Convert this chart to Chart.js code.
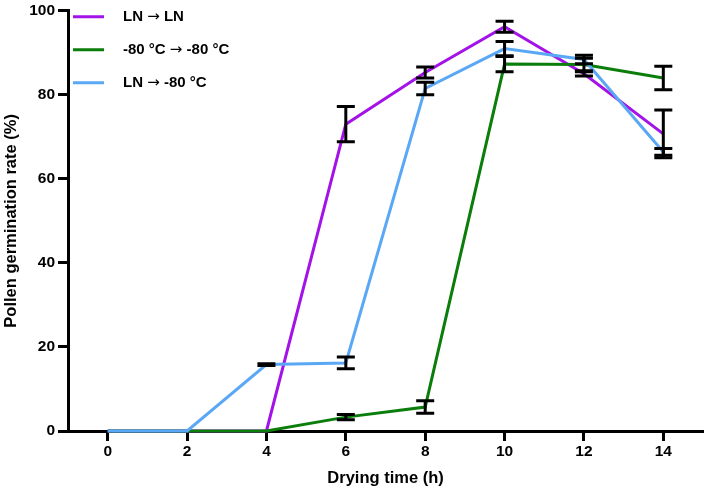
<!DOCTYPE html>
<html>
<head>
<meta charset="utf-8">
<script src="https://cdn.jsdelivr.net/npm/chart.js@4.4.0/dist/chart.umd.min.js"></script>
<style>
  html, body { margin: 0; padding: 0; background: #fff; }
  #wrap { width: 708px; height: 499px; }
</style>
</head>
<body>
<div id="wrap"><canvas id="germination"></canvas></div>
<script>
const drying_hours = [0, 2, 4, 6, 8, 10, 12, 14];
const x_ticks = [0, 2, 4, 6, 8, 10, 12, 14];
const y_ticks = [0, 20, 40, 60, 80, 100];
const series_names = ['LN \u2192 LN', '-80 \u00b0C \u2192 -80 \u00b0C', 'LN \u2192 -80 \u00b0C'];

const ln_ln = [0, 0, 0, 73, 85.3, 96.2, 85, 70.7];
const ln_ln_err = [0, 0, 0, 4.2, 1.3, 1.3, 0.5, 5.7];
const m80_m80 = [0, 0, 0, 3.3, 5.7, 87.3, 87.2, 84];
const m80_m80_err = [0, 0, 0, 0.6, 1.5, 1.8, 1.5, 2.8];
const ln_m80 = [0, 0, 15.8, 16.2, 81.5, 91, 88.4, 66.4];
const ln_m80_err = [0, 0, 0.2, 1.4, 1.5, 1.7, 1.0, 0.8];

const colors = ['#a313e8', '#0b7d0b', '#5aa8f5'];
const FONT = '"Liberation Sans", Arial, sans-serif';
const ARROW_FONT = '15px "DejaVu Sans", sans-serif';

function to_points (vals) {
  return drying_hours.map((h, i) => ({ x: h, y: vals[i] }));
}

// black error bars with caps, drawn on top of the lines
const error_bars = {
  id: 'error_bars',
  afterDatasetsDraw (chart) {
    const ctx = chart.ctx;
    const xs = chart.scales.x;
    const ys = chart.scales.y;
    ctx.save();
    ctx.strokeStyle = '#000';
    ctx.lineWidth = 3;
    chart.data.datasets.forEach(ds => {
      ds.data.forEach((p, i) => {
        const e = ds.errors[i];
        if (!e) return;
        const px = xs.getPixelForValue(p.x);
        const top = ys.getPixelForValue(p.y + e);
        const bot = ys.getPixelForValue(p.y - e);
        ctx.beginPath();
        ctx.moveTo(px, top); ctx.lineTo(px, bot);
        ctx.moveTo(px - 9, top); ctx.lineTo(px + 9, top);
        ctx.moveTo(px - 9, bot); ctx.lineTo(px + 9, bot);
        ctx.stroke();
      });
    });
    ctx.restore();
  }
};

// legend sits inside the plot, top left; arrow drawn in DejaVu so it is long like the original
const inside_legend = {
  id: 'inside_legend',
  afterDraw (chart) {
    const ctx = chart.ctx;
    const left = chart.chartArea.left;
    const top = chart.chartArea.top;
    const text_font = 'bold 15px ' + FONT;
    ctx.save();
    ctx.textBaseline = 'middle';
    ctx.fillStyle = '#000';
    series_names.forEach((name, i) => {
      const y = top + 6 + i * 33;
      ctx.strokeStyle = colors[i];
      ctx.lineWidth = 3;
      ctx.beginPath();
      ctx.moveTo(left + 5, y);
      ctx.lineTo(left + 36, y);
      ctx.stroke();
      let x = left + 55;
      name.split(/(\u2192)/).forEach(part => {
        ctx.font = part === '\u2192' ? ARROW_FONT : text_font;
        ctx.fillText(part, x, y);
        x += ctx.measureText(part).width;
      });
    });
    ctx.restore();
  }
};

const datasets = [
  { label: series_names[0], data: to_points(ln_ln), errors: ln_ln_err, borderColor: colors[0], order: 2 },
  { label: series_names[1], data: to_points(m80_m80), errors: m80_m80_err, borderColor: colors[1], order: 1 },
  { label: series_names[2], data: to_points(ln_m80), errors: ln_m80_err, borderColor: colors[2], order: 0 }
].map(ds => Object.assign(ds, {
  borderWidth: 3,
  pointRadius: 0,
  tension: 0,
  fill: false,
  clip: false
}));

const ctx = document.getElementById('germination').getContext('2d');
new Chart(ctx, {
  type: 'line',
  data: { datasets: datasets },
  plugins: [error_bars, inside_legend],
  options: {
    responsive: true,
    maintainAspectRatio: false,
    animation: false,
    events: [],
    layout: { padding: { top: 8, right: 5, left: 0, bottom: 0 } },
    plugins: {
      legend: { display: false },
      tooltip: { enabled: false }
    },
    scales: {
      x: {
        type: 'linear',
        min: -1,
        max: 15,
        afterBuildTicks: s => { s.ticks = x_ticks.map(v => ({ value: v })); },
        afterFit: s => { s.height = 68; },
        grid: { drawOnChartArea: false, drawTicks: true, tickLength: 10, tickWidth: 3, tickColor: '#000' },
        border: { display: true, color: '#000', width: 3 },
        ticks: { color: '#000', padding: 3, maxRotation: 0, font: { family: FONT, size: 15.5, weight: 'bold', lineHeight: 1 } },
        title: { display: true, text: 'Drying time (h)', color: '#000', padding: { top: 0, bottom: 11 }, font: { family: FONT, size: 16.5, weight: 'bold' } }
      },
      y: {
        min: 0,
        max: 100,
        afterBuildTicks: s => { s.ticks = y_ticks.map(v => ({ value: v })); },
        afterFit: s => { s.width = 68; },
        grid: { drawOnChartArea: false, drawTicks: true, tickLength: 10, tickWidth: 3, tickColor: '#000' },
        border: { display: true, color: '#000', width: 3 },
        ticks: { color: '#000', padding: 3, font: { family: FONT, size: 15.5, weight: 'bold', lineHeight: 1 } },
        title: { display: true, text: 'Pollen germination rate (%)', color: '#000', padding: { top: 2, bottom: 0 }, font: { family: FONT, size: 16.5, weight: 'bold' } }
      }
    }
  }
});
</script>
</body>
</html>
